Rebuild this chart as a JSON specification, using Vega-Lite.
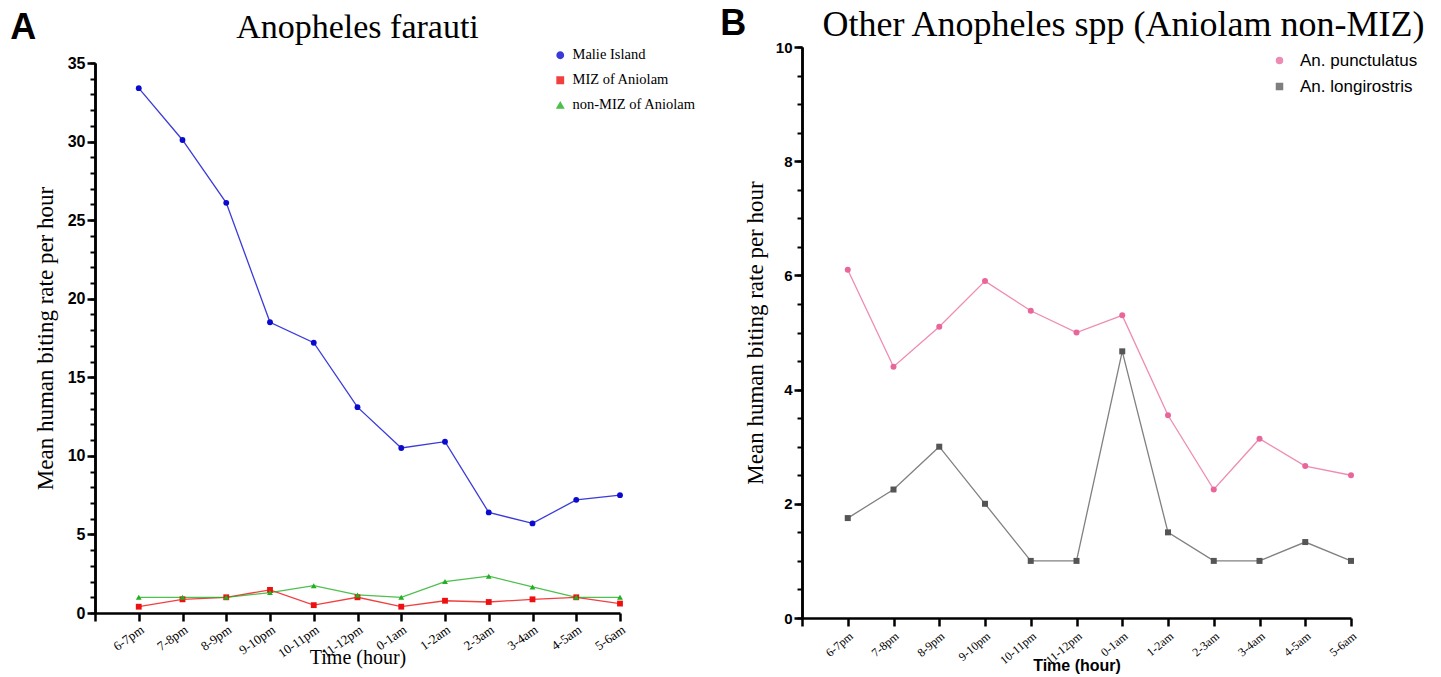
{
  "$schema": "https://vega.github.io/schema/vega-lite/v6.json",
  "background": "white",
  "padding": {"left": 10, "top": 6, "right": 0, "bottom": 0},
  "config": {
    "view": {"stroke": null},
    "axis": {"grid": false, "domainColor": "black", "tickColor": "black", "labelColor": "black", "titleColor": "black"},
    "title": {"color": "black"},
    "legend": {"labelColor": "black"}
  },
  "datasets": {
    "farauti": [
      {"time": "6-7pm", "site": "Malie Island", "rate": 33.4},
      {"time": "7-8pm", "site": "Malie Island", "rate": 30.1},
      {"time": "8-9pm", "site": "Malie Island", "rate": 26.1},
      {"time": "9-10pm", "site": "Malie Island", "rate": 18.5},
      {"time": "10-11pm", "site": "Malie Island", "rate": 17.2},
      {"time": "11-12pm", "site": "Malie Island", "rate": 13.1},
      {"time": "0-1am", "site": "Malie Island", "rate": 10.5},
      {"time": "1-2am", "site": "Malie Island", "rate": 10.9},
      {"time": "2-3am", "site": "Malie Island", "rate": 6.4},
      {"time": "3-4am", "site": "Malie Island", "rate": 5.7},
      {"time": "4-5am", "site": "Malie Island", "rate": 7.2},
      {"time": "5-6am", "site": "Malie Island", "rate": 7.5},
      {"time": "6-7pm", "site": "MIZ of Aniolam", "rate": 0.4},
      {"time": "7-8pm", "site": "MIZ of Aniolam", "rate": 0.87},
      {"time": "8-9pm", "site": "MIZ of Aniolam", "rate": 1.0},
      {"time": "9-10pm", "site": "MIZ of Aniolam", "rate": 1.47},
      {"time": "10-11pm", "site": "MIZ of Aniolam", "rate": 0.5},
      {"time": "11-12pm", "site": "MIZ of Aniolam", "rate": 1.0},
      {"time": "0-1am", "site": "MIZ of Aniolam", "rate": 0.4},
      {"time": "1-2am", "site": "MIZ of Aniolam", "rate": 0.78},
      {"time": "2-3am", "site": "MIZ of Aniolam", "rate": 0.7},
      {"time": "3-4am", "site": "MIZ of Aniolam", "rate": 0.87},
      {"time": "4-5am", "site": "MIZ of Aniolam", "rate": 1.0},
      {"time": "5-6am", "site": "MIZ of Aniolam", "rate": 0.6},
      {"time": "6-7pm", "site": "non-MIZ of Aniolam", "rate": 1.0},
      {"time": "7-8pm", "site": "non-MIZ of Aniolam", "rate": 1.0},
      {"time": "8-9pm", "site": "non-MIZ of Aniolam", "rate": 1.0},
      {"time": "9-10pm", "site": "non-MIZ of Aniolam", "rate": 1.3},
      {"time": "10-11pm", "site": "non-MIZ of Aniolam", "rate": 1.74},
      {"time": "11-12pm", "site": "non-MIZ of Aniolam", "rate": 1.15},
      {"time": "0-1am", "site": "non-MIZ of Aniolam", "rate": 1.0},
      {"time": "1-2am", "site": "non-MIZ of Aniolam", "rate": 2.0},
      {"time": "2-3am", "site": "non-MIZ of Aniolam", "rate": 2.34},
      {"time": "3-4am", "site": "non-MIZ of Aniolam", "rate": 1.66},
      {"time": "4-5am", "site": "non-MIZ of Aniolam", "rate": 1.0},
      {"time": "5-6am", "site": "non-MIZ of Aniolam", "rate": 1.0}
    ],
    "other": [
      {"time": "6-7pm", "species": "An. punctulatus", "rate": 6.1},
      {"time": "7-8pm", "species": "An. punctulatus", "rate": 4.4},
      {"time": "8-9pm", "species": "An. punctulatus", "rate": 5.1},
      {"time": "9-10pm", "species": "An. punctulatus", "rate": 5.9},
      {"time": "10-11pm", "species": "An. punctulatus", "rate": 5.38},
      {"time": "11-12pm", "species": "An. punctulatus", "rate": 5.0},
      {"time": "0-1am", "species": "An. punctulatus", "rate": 5.3},
      {"time": "1-2am", "species": "An. punctulatus", "rate": 3.55},
      {"time": "2-3am", "species": "An. punctulatus", "rate": 2.25},
      {"time": "3-4am", "species": "An. punctulatus", "rate": 3.14},
      {"time": "4-5am", "species": "An. punctulatus", "rate": 2.66},
      {"time": "5-6am", "species": "An. punctulatus", "rate": 2.5},
      {"time": "6-7pm", "species": "An. longirostris", "rate": 1.75},
      {"time": "7-8pm", "species": "An. longirostris", "rate": 2.25},
      {"time": "8-9pm", "species": "An. longirostris", "rate": 3.0},
      {"time": "9-10pm", "species": "An. longirostris", "rate": 2.0},
      {"time": "10-11pm", "species": "An. longirostris", "rate": 1.0},
      {"time": "11-12pm", "species": "An. longirostris", "rate": 1.0},
      {"time": "0-1am", "species": "An. longirostris", "rate": 4.67},
      {"time": "1-2am", "species": "An. longirostris", "rate": 1.5},
      {"time": "2-3am", "species": "An. longirostris", "rate": 1.0},
      {"time": "3-4am", "species": "An. longirostris", "rate": 1.0},
      {"time": "4-5am", "species": "An. longirostris", "rate": 1.33},
      {"time": "5-6am", "species": "An. longirostris", "rate": 1.0}
    ]
  },
  "spacing": 24,
  "resolve": {"scale": {"color": "independent", "shape": "independent"}, "legend": {"color": "independent", "shape": "independent"}},
  "hconcat": [
    {
      "title": {"text": "A", "orient": "left", "anchor": "end", "frame": "bounds", "angle": 0, "align": "right", "baseline": "top", "font": "Liberation Sans", "fontSize": 36, "fontWeight": "bold", "offset": -28},
      "hconcat": [
        {
          "title": {"text": "Anopheles farauti", "font": "Liberation Serif", "fontSize": 34, "fontWeight": "normal", "offset": 2},
          "width": 525,
          "height": 566,
          "data": {"name": "farauti"},
          "resolve": {"axis": {"y": "independent"}},
          "layer": [
            {
              "mark": {"type": "line", "strokeWidth": 1.3, "opacity": 0.8},
              "encoding": {
                "x": {"field": "time", "type": "ordinal", "scale": {"type": "point", "padding": 0, "domain": ["", "6-7pm", "7-8pm", "8-9pm", "9-10pm", "10-11pm", "11-12pm", "0-1am", "1-2am", "2-3am", "3-4am", "4-5am", "5-6am"]},
                  "axis": {"title": "Time (hour)", "titleFont": "Liberation Serif", "titleFontSize": 20, "titleFontWeight": "normal", "titlePadding": -13, "labelFont": "Liberation Serif", "labelFontSize": 13, "labelAngle": -35, "labelAlign": "right", "labelBaseline": "top", "labelPadding": 2, "tickSize": 8, "tickWidth": 2.5, "domainWidth": 2.5}},
                "y": {"field": "rate", "type": "quantitative", "scale": {"domain": [0, 35], "nice": false, "range": [566, 16]},
                  "axis": {"orient": "left", "title": null, "labels": false, "values": [0,1,2,3,4,5,6,7,8,9,10,11,12,13,14,15,16,17,18,19,20,21,22,23,24,25,26,27,28,29,30,31,32,33,34,35], "tickSize": 5, "tickWidth": 2, "domainWidth": 2.5}},
                "color": {"field": "site", "type": "nominal"},
                "detail": {"field": "site"}
              }
            },
            {
              "mark": {"type": "point", "filled": true, "size": 34, "opacity": 1},
              "encoding": {
                "x": {"field": "time", "type": "ordinal"},
                "y": {"field": "rate", "type": "quantitative",
                  "axis": {"orient": "left", "title": "Mean human biting rate per hour", "titleFont": "Liberation Serif", "titleFontSize": 23, "titleFontWeight": "normal", "titlePadding": 10, "values": [0, 5, 10, 15, 20, 25, 30, 35], "labelFont": "Liberation Sans", "labelFontWeight": "bold", "labelFontSize": 16, "labelPadding": 2, "tickSize": 8, "tickWidth": 2.5, "domainWidth": 2.5}},
                "color": {"field": "site", "type": "nominal", "scale": {"domain": ["Malie Island", "MIZ of Aniolam", "non-MIZ of Aniolam"], "range": ["#0a0ad0", "#ee1010", "#20b020"]},
                  "legend": {"title": null, "orient": "none", "legendX": 458, "legendY": 1, "labelFont": "Liberation Serif", "labelFontSize": 14.5, "symbolSize": 40, "rowPadding": 10, "labelOffset": 5}},
                "shape": {"field": "site", "type": "nominal", "scale": {"domain": ["Malie Island", "MIZ of Aniolam", "non-MIZ of Aniolam"], "range": ["circle", "square", "triangle-up"]}}
              }
            }
          ]
        }
      ]
    },
    {
      "title": {"text": "B", "orient": "left", "anchor": "end", "frame": "bounds", "angle": 0, "align": "right", "baseline": "top", "font": "Liberation Sans", "fontSize": 36, "fontWeight": "bold", "offset": -28},
      "hconcat": [
        {
          "title": {"text": "Other Anopheles spp (Aniolam non-MIZ)", "font": "Liberation Serif", "fontSize": 36, "fontWeight": "normal", "offset": -4, "dx": 47},
          "width": 549,
          "height": 571,
          "data": {"name": "other"},
          "resolve": {"axis": {"y": "independent"}},
          "layer": [
            {
              "mark": {"type": "line", "strokeWidth": 1.3, "opacity": 0.75},
              "encoding": {
                "x": {"field": "time", "type": "ordinal", "scale": {"type": "point", "padding": 0, "domain": ["", "6-7pm", "7-8pm", "8-9pm", "9-10pm", "10-11pm", "11-12pm", "0-1am", "1-2am", "2-3am", "3-4am", "4-5am", "5-6am"]},
                  "axis": {"title": "Time (hour)", "titleFont": "Liberation Sans", "titleFontSize": 16, "titleFontWeight": "bold", "titlePadding": -8, "labelFont": "Liberation Serif", "labelFontSize": 12, "labelAngle": -40, "labelAlign": "right", "labelBaseline": "top", "labelPadding": 4, "tickSize": 8, "tickWidth": 2.5, "domainWidth": 2.5}},
                "y": {"field": "rate", "type": "quantitative", "scale": {"domain": [0, 10], "nice": false},
                  "axis": {"orient": "left", "title": null, "labels": false, "values": [0,0.5,1,1.5,2,2.5,3,3.5,4,4.5,5,5.5,6,6.5,7,7.5,8,8.5,9,9.5,10], "tickSize": 5, "tickWidth": 2, "domainWidth": 2.5}},
                "color": {"field": "species", "type": "nominal"},
                "detail": {"field": "species"}
              }
            },
            {
              "mark": {"type": "point", "filled": true, "size": 36, "opacity": 1},
              "encoding": {
                "x": {"field": "time", "type": "ordinal"},
                "y": {"field": "rate", "type": "quantitative",
                  "axis": {"orient": "left", "title": "Mean human biting rate per hour", "titleFont": "Liberation Serif", "titleFontSize": 23, "titleFontWeight": "normal", "titlePadding": 8, "values": [0, 2, 4, 6, 8, 10], "labelFont": "Liberation Sans", "labelFontWeight": "bold", "labelFontSize": 15, "labelPadding": 2, "tickSize": 8, "tickWidth": 2.5, "domainWidth": 2.5}},
                "color": {"field": "species", "type": "nominal", "scale": {"domain": ["An. punctulatus", "An. longirostris"], "range": ["#e8669a", "#555555"]},
                  "legend": {"title": null, "orient": "none", "legendX": 469, "legendY": 5, "labelFont": "Liberation Sans", "labelFontSize": 17, "symbolSize": 36, "rowPadding": 8, "labelOffset": 12}},
                "shape": {"field": "species", "type": "nominal", "scale": {"domain": ["An. punctulatus", "An. longirostris"], "range": ["circle", "square"]}}
              }
            }
          ]
        }
      ]
    }
  ]
}
